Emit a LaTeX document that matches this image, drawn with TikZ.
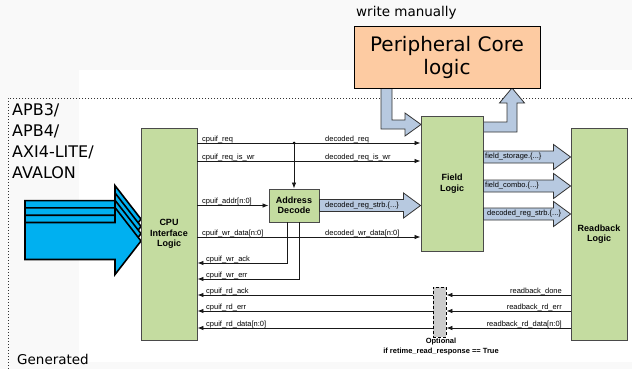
\documentclass[tikz,border=0pt]{standalone}
\usepackage{fontspec}
\setmainfont{Liberation Sans}
\newfontfamily\dejavu{DejaVu Sans}
\usetikzlibrary{arrows.meta,calc}

\definecolor{bggray}{HTML}{F9F9F9}
\definecolor{blockgreen}{HTML}{C4DCA0}
\definecolor{blockedge}{HTML}{4A4A4A}
\definecolor{fatblue}{HTML}{B7C9E0}
\definecolor{buscyan}{HTML}{00B0F0}
\definecolor{corefill}{HTML}{FDCBA2}
\definecolor{optfill}{HTML}{CCCCCC}

% straight wide arrow from #1 (tail) to #2 (tip), both at the same height
\newcommand\fatarrow[2]{%
  \draw[fat] ($(#1)+(0,-6)$) -- ($(#2)+(-17,-6)$) -- ($(#2)+(-17,-12.5)$) -- (#2)
    -- ($(#2)+(-17,12.5)$) -- ($(#2)+(-17,6)$) -- ($(#1)+(0,6)$) -- cycle;}

\begin{document}
\begin{tikzpicture}[x=1pt,y=-1pt,
  block/.style={draw=blockedge, fill=blockgreen, line width=0.9pt, inner sep=0pt,
    font=\bfseries\fontsize{9}{10.5}\selectfont, align=center},
  sig/.style={draw=black!90, line width=0.8pt, -{Latex[length=6pt,width=4.5pt]}},
  lbl/.style={font=\fontsize{7.5}{8}\selectfont, inner sep=0pt},
  fat/.style={draw=black!80, fill=fatblue, line width=0.8pt, line join=miter},
  bus/.style={draw=black, fill=buscyan, line width=1.6pt, line join=miter},
  dotline/.style={draw=black!80, line width=1pt, dash pattern=on 1pt off 2pt},
]
\useasboundingbox (0,0) rectangle (632,369);

% backdrop: grey margin, white generated area
\fill[bggray] (0,0) rectangle (632,369);
\fill[white] (79,70) rectangle (632,362);
\draw[dotline] (632,98) -- (8,98) -- (8,369);

% row heights
\coordinate (yreq)   at (0,143);
\coordinate (yreqwr) at (0,161);
\coordinate (ywd)    at (0,237);
\coordinate (yack)   at (0,263);
\coordinate (yerr)   at (0,279);
\coordinate (yrack)  at (0,295);
\coordinate (yrerr)  at (0,311);
\coordinate (yrdata) at (0,328);
\coordinate (yfs)    at (0,157);
\coordinate (yfc)    at (0,186);
\coordinate (yfd)    at (0,214);

% user-written block
\draw[fat] (381,88) -- (381,129) -- (405,129) -- (405,136) -- (421,124.5)
  -- (405,113) -- (405,120) -- (392,120) -- (392,88) -- cycle;
\draw[fat] (483,122) -- (507,122) -- (507,103) -- (499.5,103) -- (512,88)
  -- (524.5,103) -- (517,103) -- (517,132) -- (483,132) -- cycle;
\node[draw=black, fill=corefill, line width=0.9pt, minimum width=186pt, minimum height=62pt,
  inner sep=0pt, align=center, font=\dejavu\fontsize{20}{23}\selectfont] (core) at (447,57)
  {Peripheral Core\\logic};
\node[anchor=west, inner sep=0pt, font=\dejavu\fontsize{13.5}{16}\selectfont] (wm) at (356,13) {write manually};

% bus interface arrows
\foreach \k in {3,2,1,0}{
  \draw[bus, yshift=\k*7.3pt] (25,222.5) -- (115,222.5) -- (115,207.5) -- (141,241)
    -- (115,274.5) -- (115,259.5) -- (25,259.5) -- cycle;
}
\node[anchor=north west, inner sep=0pt, align=left,
  font=\dejavu\fontsize{16}{21.3}\selectfont] (proto) at (12,103)
  {APB3/\\APB4/\\AXI4-LITE/\\AVALON};
\node[anchor=west, inner sep=0pt, font=\dejavu\fontsize{13.5}{16}\selectfont] (gen) at (17,359) {Generated};

% generated blocks
\node[block, minimum width=56pt, minimum height=212pt] (cpu) at (169,234) {CPU\\Interface\\Logic};
\node[block, minimum width=62pt, minimum height=135pt] (field) at (452,183.5) {Field\\Logic};
\node[block, minimum width=56pt, minimum height=212pt] (rb) at (599,234) {Readback\\Logic};
\node[block, minimum width=50pt, minimum height=33pt] (addr) at (294,205.5) {Address\\Decode};
\node[draw=black, dashed, dash pattern=on 3pt off 2pt, fill=optfill, line width=0.8pt,
  minimum width=13pt, minimum height=50pt, inner sep=0pt] (opt) at (439.5,312) {};
\node[inner sep=0pt, align=center, font=\bfseries\fontsize{7.5}{10}\selectfont] (optnote) at (441,347)
  {Optional\\if retime\_read\_response == True};

% wide strobe / field buses
\coordinate (s0) at (addr.east);
\coordinate (s1) at (field.west |- addr.east);
\fatarrow{s0}{s1}
\coordinate (fa0) at (field.east |- yfs);  \coordinate (fa1) at (rb.west |- yfs);
\coordinate (fb0) at (field.east |- yfc);  \coordinate (fb1) at (rb.west |- yfc);
\coordinate (fc0) at (field.east |- yfd);  \coordinate (fc1) at (rb.west |- yfd);
\fatarrow{fa0}{fa1}
\fatarrow{fb0}{fb1}
\fatarrow{fc0}{fc1}
\node[lbl, anchor=west] at (325,206) {decoded\_reg\_strb.\{...\}};
\node[lbl, anchor=west] at (485,157) {field\_storage.\{...\}};
\node[lbl, anchor=west] at (485,186) {field\_combo.\{...\}};
\node[lbl, anchor=west] at (487,214) {decoded\_reg\_strb.\{...\}};

% request side
\draw[sig] (cpu.east |- yreq) -- (field.west |- yreq);
\draw[sig] (cpu.east |- yreqwr) -- (field.west |- yreqwr);
\coordinate (tap) at (addr.north |- yreq);
\fill (tap) circle (1.5pt);
\draw[sig] (tap) -- (addr.north);
\draw[sig] (cpu.east |- addr.west) -- (addr.west);
\draw[sig] (cpu.east |- ywd) -- (field.west |- ywd);
\node[lbl, anchor=base west] at (202,141) {cpuif\_req};
\node[lbl, anchor=base west] at (325,141) {decoded\_req};
\node[lbl, anchor=base west] at (202,159) {cpuif\_req\_is\_wr};
\node[lbl, anchor=base west] at (325,159) {decoded\_req\_is\_wr};
\node[lbl, anchor=base west] at (202,203.5) {cpuif\_addr[n:0]};
\node[lbl, anchor=base west] at (202,235) {cpuif\_wr\_data[n:0]};
\node[lbl, anchor=base west] at (325,235) {decoded\_wr\_data[n:0]};

% write response
\draw[sig] ([xshift=-7pt]addr.south) |- (cpu.east |- yack);
\draw[sig] ([xshift=5pt]addr.south) |- (cpu.east |- yerr);
\node[lbl, anchor=base west] at (206,261) {cpuif\_wr\_ack};
\node[lbl, anchor=base west] at (206,277) {cpuif\_wr\_err};

% read response
\draw[sig] (opt.west |- yrack) -- (cpu.east |- yrack);
\draw[sig] (opt.west |- yrerr) -- (cpu.east |- yrerr);
\draw[sig] (opt.west |- yrdata) -- (cpu.east |- yrdata);
\draw[sig] (rb.west |- yrack) -- (opt.east |- yrack);
\draw[sig] (rb.west |- yrerr) -- (opt.east |- yrerr);
\draw[sig] (rb.west |- yrdata) -- (opt.east |- yrdata);
\node[lbl, anchor=base west] at (206,293) {cpuif\_rd\_ack};
\node[lbl, anchor=base west] at (206,309) {cpuif\_rd\_err};
\node[lbl, anchor=base west] at (206,326) {cpuif\_rd\_data[n:0]};
\node[lbl, anchor=base east] at (562,293) {readback\_done};
\node[lbl, anchor=base east] at (562,309) {readback\_rd\_err};
\node[lbl, anchor=base east] at (562,326) {readback\_rd\_data[n:0]};
\end{tikzpicture}
\end{document}
